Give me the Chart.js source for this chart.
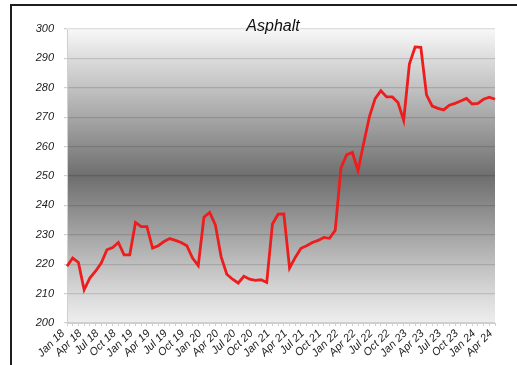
<!DOCTYPE html>
<html>
<head>
<meta charset="utf-8">
<title>Asphalt</title>
<script src="https://cdn.jsdelivr.net/npm/chart.js@4"></script>
<style>
  html, body { margin: 0; padding: 0; background: #fff; overflow: hidden; }
  #wrap { position: relative; width: 517px; height: 365px; }
  #frame { position: absolute; left: 10px; top: 4px; width: 600px; height: 500px;
           border: 2px solid #1e1e1e; pointer-events: none; }
  canvas { position: absolute; left: 0; top: 0; }
</style>
</head>
<body>
<div id="wrap">
  <canvas id="chart" width="517" height="365"></canvas>
  <div id="frame"></div>
</div>
<script>
// Monthly categories, Jan 2018 to Apr 2024
const months = [
  'Jan 18','Feb 18','Mar 18','Apr 18','May 18','Jun 18','Jul 18','Aug 18','Sep 18','Oct 18','Nov 18','Dec 18',
  'Jan 19','Feb 19','Mar 19','Apr 19','May 19','Jun 19','Jul 19','Aug 19','Sep 19','Oct 19','Nov 19','Dec 19',
  'Jan 20','Feb 20','Mar 20','Apr 20','May 20','Jun 20','Jul 20','Aug 20','Sep 20','Oct 20','Nov 20','Dec 20',
  'Jan 21','Feb 21','Mar 21','Apr 21','May 21','Jun 21','Jul 21','Aug 21','Sep 21','Oct 21','Nov 21','Dec 21',
  'Jan 22','Feb 22','Mar 22','Apr 22','May 22','Jun 22','Jul 22','Aug 22','Sep 22','Oct 22','Nov 22','Dec 22',
  'Jan 23','Feb 23','Mar 23','Apr 23','May 23','Jun 23','Jul 23','Aug 23','Sep 23','Oct 23','Nov 23','Dec 23',
  'Jan 24','Feb 24','Mar 24','Apr 24'
];

// Asphalt price index, one value per month
const asphalt = [
  219.3, 222.1, 220.6, 211.3, 215.3, 217.6, 220.4, 224.9, 225.7, 227.4, 223.2, 223.2,
  234.2, 232.8, 232.8, 225.5, 226.3, 227.7, 228.7, 228.1, 227.4, 226.3, 222.1, 219.5,
  236.0, 237.6, 233.4, 222.6, 216.6, 214.9, 213.6, 215.9, 214.9, 214.5, 214.7, 213.8,
  233.7, 237.0, 237.1, 218.7, 222.3, 225.4, 226.3, 227.4, 228.1, 229.1, 228.8, 231.5,
  252.7, 257.2, 258.0, 251.9, 261.2, 270.2, 276.3, 279.0, 276.9, 276.9, 275.0, 268.9,
  288.1, 293.9, 293.8, 277.6, 273.8, 273.0, 272.5, 274.1, 274.7, 275.5, 276.4, 274.5,
  274.7, 276.1, 276.8, 276.1
];

// Quarterly labels shown under the axis
const tickLabels = [
  'Jan 18','Apr 18','Jul 18','Oct 18','Jan 19','Apr 19','Jul 19','Oct 19',
  'Jan 20','Apr 20','Jul 20','Oct 20','Jan 21','Apr 21','Jul 21','Oct 21',
  'Jan 22','Apr 22','Jul 22','Oct 22','Jan 23','Apr 23','Jul 23','Oct 23',
  'Jan 24','Apr 24'
];

const chartTitle = 'Asphalt';
const yMin = 200, yMax = 300, yStep = 10;

// Grey banded background: light at the edges, darkest around the middle
const plotShade = {
  id: 'plotShade',
  beforeDraw(chart) {
    const { ctx, chartArea: a, scales: { y } } = chart;
    const g = ctx.createLinearGradient(0, a.top, 0, a.bottom);
    const stops = [
      [300, '#f8f8f8'], [290, '#dcdcdc'], [280, '#c2c2c2'], [270, '#a7a7a7'],
      [260, '#8b8b8b'], [250, '#6e6e6e'], [240, '#898989'], [230, '#a4a4a4'],
      [220, '#bfbfbf'], [210, '#d8d8d8'], [200, '#eeeeee']
    ];
    for (const [v, c] of stops) {
      const t = (y.getPixelForValue(v) - a.top) / (a.bottom - a.top);
      g.addColorStop(Math.min(1, Math.max(0, t)), c);
    }
    ctx.save();
    ctx.fillStyle = g;
    ctx.fillRect(a.left, a.top, a.right - a.left, a.bottom - a.top);
    ctx.restore();
  }
};

// Title sits over the top edge of the plot, centred on the framed panel
const panelTitle = {
  id: 'panelTitle',
  afterDraw(chart) {
    const { ctx } = chart;
    ctx.save();
    ctx.font = "italic 16px 'Liberation Sans', Arial, sans-serif";
    ctx.fillStyle = '#111';
    ctx.textAlign = 'center';
    ctx.textBaseline = 'alphabetic';
    ctx.fillText(chartTitle, 273, 31);
    ctx.restore();
  }
};

const labelFont = { family: "'Liberation Sans', Arial, sans-serif", size: 11, style: 'italic' };

new Chart(document.getElementById('chart'), {
  type: 'line',
  data: {
    labels: months,
    datasets: [{
      label: chartTitle,
      data: asphalt,
      borderColor: '#ee1c1c',
      borderWidth: 2.8,
      pointRadius: 0,
      tension: 0,
      fill: false
    }]
  },
  options: {
    responsive: false,
    animation: false,
    layout: { padding: { left: 29, right: 22, top: 29, bottom: 0 } },
    plugins: {
      legend: { display: false },
      tooltip: { enabled: false },
      title: { display: false }
    },
    scales: {
      x: {
        type: 'category',
        offset: false,
        afterFit(s) { s.height = 42; },
        border: { color: '#cfcfcf', width: 1 },
        grid: { drawOnChartArea: false, drawTicks: true, tickLength: 3, tickColor: '#cfcfcf' },
        ticks: {
          autoSkip: false,
          minRotation: 45,
          maxRotation: 45,
          padding: 1,
          labelOffset: -4,
          color: '#222',
          font: labelFont,
          callback(value) {
            const lab = this.getLabelForValue(value);
            return tickLabels.includes(lab) ? lab : '';
          }
        }
      },
      y: {
        min: yMin,
        max: yMax,
        afterFit(s) { s.width = 38; },
        border: { color: '#cfcfcf', width: 1 },
        grid: { color: 'rgba(0,0,0,0.13)', lineWidth: 1.2, drawTicks: true, tickLength: 3, tickColor: '#cfcfcf' },
        ticks: {
          stepSize: yStep,
          padding: 10,
          color: '#222',
          font: labelFont
        }
      }
    }
  },
  plugins: [plotShade, panelTitle]
});
</script>
</body>
</html>
